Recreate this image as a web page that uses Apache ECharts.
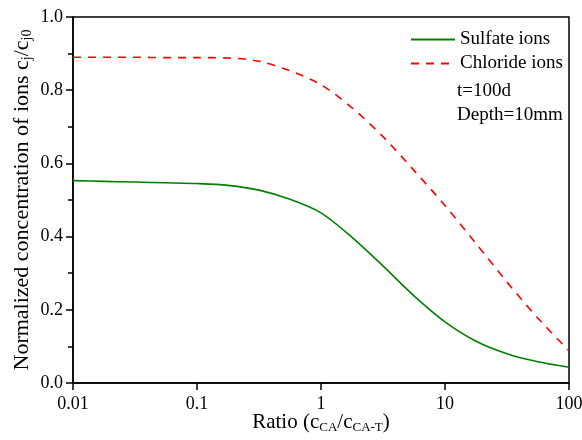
<!DOCTYPE html>
<html>
<head>
<meta charset="utf-8">
<script src="https://cdn.jsdelivr.net/npm/echarts@6/dist/echarts.min.js"></script>
<style>
  html, body { margin: 0; padding: 0; background: #fff; }
  #chart { width: 582px; height: 440px; }
</style>
</head>
<body>
<div id="chart"></div>
<script>
// ratio c_CA / c_CA-T, read at quarter-decade steps
const ratio = [0.01, 0.0178, 0.0316, 0.0562, 0.1, 0.178, 0.316, 0.562, 1, 1.78, 3.16, 5.62, 10, 17.8, 31.6, 56.2, 100]
const sulfate = [0.553, 0.551, 0.549, 0.547, 0.545, 0.540, 0.527, 0.502, 0.465, 0.398, 0.320, 0.238, 0.167, 0.114, 0.080, 0.058, 0.043]
const chloride = [0.890, 0.890, 0.890, 0.889, 0.889, 0.888, 0.879, 0.853, 0.815, 0.752, 0.673, 0.581, 0.485, 0.381, 0.276, 0.177, 0.088]
const yTicks = ['0.0', '0.2', '0.4', '0.6', '0.8', '1.0']

const font = '"Liberation Serif", "DejaVu Serif", serif'
const chart = echarts.init(document.getElementById('chart'))

const option = {
  backgroundColor: '#fff',
  animation: false,
  textStyle: { fontFamily: font, color: '#000' },
  grid: {
    left: 73, right: 13, top: 17, bottom: 57,
    outerBoundsMode: 'none', containLabel: false,
    show: true, borderColor: '#000', borderWidth: 1.5
  },
  legend: {
    left: 405, top: 25, orient: 'vertical',
    itemWidth: 44, itemHeight: 16, itemGap: 5,
    itemStyle: { opacity: 0 },
    textStyle: { fontFamily: font, fontSize: 19, color: '#000' },
    data: ['Sulfate ions', 'Chloride ions']
  },
  graphic: [
    { type: 'text', left: 457, top: 82, style: { text: 't=100d', font: '19px ' + font, fill: '#000' } },
    { type: 'text', left: 457, top: 106, style: { text: 'Depth=10mm', font: '19px ' + font, fill: '#000' } }
  ],
  xAxis: {
    type: 'log', logBase: 10, min: 0.01, max: 100,
    name: '{n|Ratio (c}{s|CA}{n|/c}{s|CA-T}{n|)}',
    nameLocation: 'middle', nameGap: 28, nameMoveOverlap: false,
    nameTextStyle: {
      rich: {
        n: { fontFamily: font, fontSize: 21, color: '#000' },
        s: { fontFamily: font, fontSize: 13, color: '#000', verticalAlign: 'bottom', padding: [10, 0, 0, 0] }
      }
    },
    axisLine: { lineStyle: { color: '#000', width: 1.5 } },
    axisTick: { inside: false, length: 7, lineStyle: { color: '#000', width: 1.5 } },
    minorTick: { show: false },
    splitLine: { show: false },
    axisLabel: {
      fontFamily: font, fontSize: 18, color: '#000', margin: 12,
      formatter: v => String(+v.toPrecision(3))
    }
  },
  yAxis: {
    type: 'value', min: 0, max: 1, interval: 0.2,
    name: '{n|Normalized concentration of ions c}{s|j}{n|/c}{s|j0}',
    nameLocation: 'middle', nameGap: 39, nameMoveOverlap: false,
    nameTextStyle: {
      rich: {
        n: { fontFamily: font, fontSize: 22, color: '#000' },
        s: { fontFamily: font, fontSize: 14, color: '#000', verticalAlign: 'bottom', padding: [10, 0, 0, 0] }
      }
    },
    axisLine: { show: true, lineStyle: { color: '#000', width: 1.5 } },
    axisTick: { inside: false, length: 7, lineStyle: { color: '#000', width: 1.5 } },
    minorTick: { show: true, splitNumber: 2, length: 5, lineStyle: { color: '#000', width: 1.5 } },
    splitLine: { show: false },
    axisLabel: {
      fontFamily: font, fontSize: 18, color: '#000', margin: 10,
      formatter: (v, i) => yTicks[i]
    }
  },
  series: [
    {
      name: 'Sulfate ions', type: 'line', smooth: 0.3, showSymbol: false, symbol: 'none',
      color: '#007f00',
      lineStyle: { color: '#007f00', width: 1.6 },
      data: ratio.map((r, i) => [r, sulfate[i]])
    },
    {
      name: 'Chloride ions', type: 'line', smooth: 0.3, showSymbol: false, symbol: 'none',
      color: '#ff0000',
      lineStyle: { color: '#ff0000', width: 1.6, type: [8, 7] },
      data: ratio.map((r, i) => [r, chloride[i]])
    }
  ]
}
chart.setOption(option)
</script>
</body>
</html>
